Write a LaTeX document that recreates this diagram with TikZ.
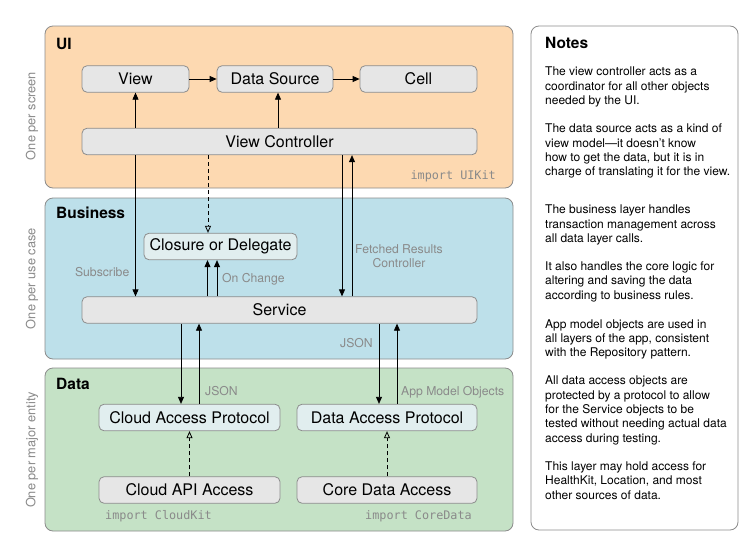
\documentclass[tikz,border=0pt]{standalone}
\usepackage{fontspec}
\setmainfont{TeX Gyre Heros}
\setmonofont{DejaVu Sans Mono}
\usetikzlibrary{arrows.meta,calc}
\definecolor{uifill}{HTML}{FDD9B1}
\definecolor{bizfill}{HTML}{BDE0EA}
\definecolor{datafill}{HTML}{C5E2C6}
\definecolor{panelborder}{HTML}{8C8C8C}
\definecolor{boxfill}{HTML}{E6E6E6}
\definecolor{protofill}{HTML}{E1EEEF}
\definecolor{labelgray}{HTML}{8A8A8A}
\begin{document}
\begin{tikzpicture}[x=1pt,y=-1pt,
  panel/.style={draw=panelborder, line width=0.8pt, rounded corners=8pt},
  box/.style={draw=panelborder, fill=boxfill, rounded corners=5pt, line width=0.8pt,
    font=\fontsize{16}{18}\selectfont, inner sep=0pt, minimum height=26.5pt},
  proto/.style={box, fill=protofill},
  arr/.style={-{Triangle[length=7pt,width=6pt]}, line width=0.8pt},
  dasharr/.style={-{Triangle[open,length=7pt,width=6pt]}, line width=0.8pt, dash pattern=on 4pt off 3pt},
  lbl/.style={text=labelgray, font=\fontsize{12.2}{14.3}\selectfont, inner sep=0pt},
  side/.style={text=labelgray, font=\fontsize{12.8}{15}\selectfont, inner sep=0pt, rotate=90},
  code/.style={text=labelgray, font=\ttfamily\fontsize{11.8}{14}\selectfont, inner sep=0pt},
  title/.style={font=\bfseries\fontsize{15.5}{18}\selectfont, inner sep=0pt, anchor=mid west},
  note/.style={font=\fontsize{12}{14.3}\selectfont, align=left, anchor=north west, inner sep=0pt}
]
\useasboundingbox (0,0) rectangle (756,552);
\fill[white] (0,0) rectangle (756,552);

% panels
\path[panel, fill=uifill] (45,26) rectangle (513,188);
\path[panel, fill=bizfill] (45,198) rectangle (513,359);
\path[panel, fill=datafill] (45,368) rectangle (513,531);
\path[panel, fill=white] (531,26) rectangle (738,530);

% panel titles
\node[title] (tui) at (56,46.5) {UI};
\node[title] (tbiz) at (56,215.5) {Business};
\node[title] (tdata) at (56,386.5) {Data};
\node[title] (tnotes) at (545,45.5) {Notes};

% side labels
\node[side] (s1) at (32,116) {One per screen};
\node[side] (s2) at (32,278.5) {One per use case};
\node[side] (s3) at (32,450) {One per major entity};

% UI boxes
\node[box, minimum width=107pt] (view) at (135.5,79) {View};
\node[box, minimum width=116pt] (ds) at (275,79) {Data Source};
\node[box, minimum width=117pt] (cell) at (418.5,79) {Cell};
\node[box, minimum width=395pt] (vc) at (279.5,141.5) {View Controller};
\node[code, anchor=mid east] (uikit) at (496,177) {import UIKit};

% Business boxes
\node[proto, minimum width=153pt] (cd) at (220.5,246.5) {Closure or Delegate};
\node[box, minimum width=395pt] (svc) at (279.5,310) {Service};

% Data boxes
\node[proto, minimum width=181pt] (cap) at (189.5,417.5) {Cloud Access Protocol};
\node[proto, minimum width=180pt] (dap) at (387,417.5) {Data Access Protocol};
\node[box, minimum width=181pt] (capi) at (189.5,490) {Cloud API Access};
\node[box, minimum width=180pt] (cda) at (387,490) {Core Data Access};
\node[code, anchor=mid west] (ck) at (105,517) {import CloudKit};
\node[code, anchor=mid east] (cdk) at (472,517) {import CoreData};

% labels
\node[lbl, anchor=mid east] (lsub) at (129.5,274) {Subscribe};
\node[lbl, anchor=mid west] (lchg) at (222,280) {On Change};
\node[lbl, align=center] (lfrc) at (399,256) {Fetched Results\\Controller};
\node[lbl] (ljson1) at (356.5,343.5) {JSON};
\node[lbl, anchor=mid west] (ljson2) at (205,392.5) {JSON};
\node[lbl, anchor=mid west] (lamo) at (401,392.5) {App Model Objects};

% UI arrows
\draw[arr] (view.east) -- (ds.west);
\draw[arr] (ds.east) -- (cell.west);
\draw[arr] (vc.north -| view) -- (view.south);
\draw[arr] ([xshift=3pt]vc.north -| ds) -- ([xshift=3pt]ds.south);

% VC <-> Service
\draw[arr] (vc.south -| view) -- (svc.north -| view);
\draw[dasharr] ([xshift=-12.5pt]vc.south -| cd) -- ([xshift=-12.5pt]cd.north);
\draw[arr] ([xshift=-13pt]svc.north -| cd) -- ([xshift=-13pt]cd.south);
\draw[arr] ([xshift=-3.5pt]svc.north -| cd) -- ([xshift=-3.5pt]cd.south);
\draw[arr] ([xshift=62.5pt]vc.south) -- ([xshift=62.5pt]svc.north);
\draw[arr] ([xshift=72.5pt]svc.north) -- ([xshift=72.5pt]vc.south);

% Service <-> Data
\draw[arr] ([xshift=-8.5pt]svc.south -| cap) -- ([xshift=-8.5pt]cap.north);
\draw[arr] ([xshift=9.5pt]cap.north) -- ([xshift=9.5pt]svc.south -| cap);
\draw[arr] ([xshift=-8pt]svc.south -| dap) -- ([xshift=-8pt]dap.north);
\draw[arr] ([xshift=10pt]dap.north) -- ([xshift=10pt]svc.south -| dap);
\draw[dasharr] (capi.north) -- (cap.south);
\draw[dasharr] (cda.north) -- (dap.south);

% notes
\node[note] (n1) at (545,67) {The view controller acts as a\\coordinator for all other objects\\needed by the UI.};
\node[note] (n2) at (545,124) {The data source acts as a kind of\\view model—it doesn’t know\\how to get the data, but it is in\\charge of translating it for the view.};
\node[note] (n3) at (545,205) {The business layer handles\\transaction management across\\all data layer calls.};
\node[note] (n4) at (545,261.7) {It also handles the core logic for\\altering and saving the data\\according to business rules.};
\node[note] (n5) at (545,319.3) {App model objects are used in\\all layers of the app, consistent\\with the Repository pattern.};
\node[note] (n6) at (545,376) {All data access objects are\\protected by a protocol to allow\\for the Service objects to be\\tested without needing actual data\\access during testing.};
\node[note] (n7) at (545,461.6) {This layer may hold access for\\HealthKit, Location, and most\\other sources of data.};
\end{tikzpicture}
\end{document}
